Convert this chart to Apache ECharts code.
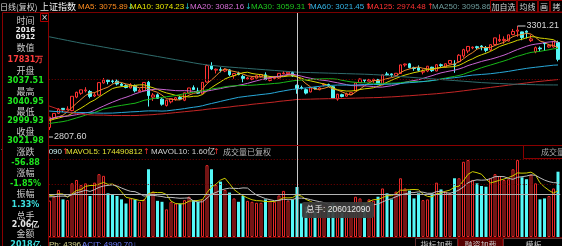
<!DOCTYPE html>
<html><head><meta charset="utf-8">
<script src="https://cdn.jsdelivr.net/npm/echarts@6/dist/echarts.min.js"></script>
<style>html,body{margin:0;padding:0;background:#000;overflow:hidden}#c{width:562px;height:246px}</style>
</head><body><div id="c"></div>
<script>
// ---------- data (SSE Composite, daily, 2016-06-24 .. 2016-12-12) ----------
const dates = ['06-24','06-27','06-28','06-29','06-30','07-01','07-04','07-05','07-06','07-07','07-08','07-11','07-12','07-13','07-14','07-15','07-18','07-19','07-20','07-21','07-22','07-25','07-26','07-27','07-28','07-29','08-01','08-02','08-03','08-04','08-05','08-08','08-09','08-10','08-11','08-12','08-15','08-16','08-17','08-18','08-19','08-22','08-23','08-24','08-25','08-26','08-29','08-30','08-31','09-01','09-02','09-05','09-06','09-07','09-08','09-09','09-12','09-13','09-14','09-19','09-20','09-21','09-22','09-23','09-26','09-27','09-28','09-29','09-30','10-10','10-11','10-12','10-13','10-14','10-17','10-18','10-19','10-20','10-21','10-24','10-25','10-26','10-27','10-28','10-31','11-01','11-02','11-03','11-04','11-07','11-08','11-09','11-10','11-11','11-14','11-15','11-16','11-17','11-18','11-21','11-22','11-23','11-24','11-25','11-28','11-29','11-30','12-01','12-02','12-05','12-06','12-07','12-08','12-09','12-12'];
const opens = [2890,2850,2893,2913,2935,2930,2925,2985,3002,3013,3010,2990,2994,3048,3060,3057,3056,3043,3036,3026,3036,3010,3013,3051,2985,2995,2976,2948,2964,2975,2983,2971,3003,3027,3012,3000,3052,3124,3105,3107,3101,3106,3080,3090,3077,3066,3064,3069,3077,3084,3059,3068,3070,3089,3089,3094,3037.51,3028,3018,3008,3026,3018,3039,3041,3031,2976,2996,2989,2997,3012,3049,3062,3056,3058,3063,3039,3088,3088,3081,3090,3128,3133,3116,3115,3096,3101,3118,3101,3129,3119,3134,3131,3143,3168,3190,3204,3209,3212,3205,3195,3219,3236,3237,3235,3263,3278,3275,3278,3236,3186,3203,3226,3208,3208,3228];
const highs = [2893.5,2897,2913,2936,2936,2944,2989,3009,3018,3029,3016,3007,3050,3070,3062,3065,3063,3049,3042,3047,3041,3024,3051,3057,3003,3001,2980,2973,2979,2986,2990,3005,3026,3037,3027,3051,3130,3140,3112,3118,3113,3109,3091,3098,3084,3075,3074,3084,3088,3095,3072,3078,3091,3101,3097,3099,3040.95,3036,3024,3028,3028,3030,3047,3045,3034,2998.5,3000,3005,3006,3048.5,3068,3063,3066,3067,3066,3085,3097,3090,3091,3129,3134,3137,3120,3126,3109,3122.5,3120,3132,3134,3134,3150,3149,3176,3200,3212,3210,3213,3216,3212,3219,3249,3264,3255,3262,3288,3301.21,3276,3282,3262,3210,3210,3228,3222,3233,3236];
const lows = [2807.60,2839,2885,2910,2918,2925,2922,2980,2995,3006,2980,2985,2992,3045,3042,3046,3037,3032,3024,3024,3006,3008,3011,2943,2968,2977,2947,2943,2957,2969,2972,2967,2999,3017,3000,2997,3050,3105,3090,3095,3096,3078,3067,3082,3051,3061,3060,3068,3072,3060,3055,3064,3066,3086,3083,3075,2999.93,3019,2997,3006,3018,3015,3033,3030,2979,2969,2984,2987,2996,3012,3048,3049,3055,3048,3038,3038,3078,3075,3074,3088,3120,3113,3102,3098,3086,3096,3097,3100,3119,3116,3130,3093,3140,3160,3180,3198,3197,3193,3184,3189,3217,3230,3222,3232,3260,3253,3238,3246,3230,3180,3188,3190,3205,3205,3144];
const closes = [2854.29,2895.70,2912.56,2931.59,2929.61,2932.48,2988.60,3006.39,3017.29,3016.85,2988.09,2994.92,3049.38,3060.69,3054.02,3054.30,3043.56,3036.60,3027.90,3039.01,3012.82,3015.83,3050.17,2992.00,2994.31,2979.34,2953.39,2971.28,2978.46,2982.43,2976.70,3004.28,3025.68,3018.75,3002.64,3050.67,3125.20,3110.04,3109.04,3104.11,3108.10,3084.81,3089.71,3085.87,3068.33,3070.31,3070.03,3080.02,3085.49,3063.31,3067.35,3072.10,3090.71,3091.93,3095.95,3078.86,3021.98,3023.51,3002.85,3026.05,3023.00,3025.87,3042.31,3033.90,2980.43,2998.17,2987.86,2998.48,3004.70,3048.14,3065.25,3058.50,3061.35,3063.81,3041.17,3083.88,3084.72,3084.46,3090.94,3128.25,3131.94,3116.31,3112.35,3104.27,3100.49,3122.44,3102.71,3128.94,3125.32,3133.33,3147.89,3128.37,3171.28,3196.04,3210.37,3206.99,3205.06,3208.45,3192.86,3218.15,3248.35,3241.14,3241.74,3261.94,3277.00,3282.92,3250.03,3273.31,3243.84,3204.71,3199.65,3222.24,3215.37,3232.88,3152.97];
// volume, million lots
const volumes = [220,150,166,194,155,152,221,235,214,221,169,224,259,252,180,176,169,155,138,159,155,145,155,279,187,149,145,114,145,138,138,152,166,152,145,155,296,279,214,228,194,183,159,145,169,149,145,141,141,155,149,145,171,190,150,155,206.01209,138,125,110,105,108,130,118,140,112,100,98,110,166,159,140,155,150,166,200,180,155,187,242,200,191,159,180,152,155,180,224,196,187,180,242,242,310,317,235,221,210,207,242,259,251,235,238,279,317,246,238,256,221,155,159,169,200,269];
// closes of the 59 sessions before 06-24 (for the moving averages)
const priorCloses = [2919.83,3000.65,3003.92,3009.53,3053.07,3050.59,3008.42,2984.96,3033.96,3023.65,3066.64,3082.36,3078.12,3033.66,3042.82,2972.58,2953.67,2959.24,2946.67,2964.70,2953.50,2945.59,2938.32,2992.64,2991.27,2997.84,2913.25,2832.11,2832.59,2837.04,2835.86,2827.11,2850.86,2843.68,2807.51,2806.91,2825.48,2843.65,2821.67,2815.09,2822.44,2821.05,2822.45,2916.62,2913.51,2925.23,2938.68,2934.10,2936.04,2927.16,2833.07,2842.19,2887.21,2872.82,2885.11,2888.81,2878.56,2905.55,2891.96];
const priorVolumes = [190,160,175,150,165,155,150,170,160];
// long averages
const ma125 = [2952,2945,2938,2931,2925,2919,2915,2912,2910,2908,2906,2905,2905,2905,2904,2903,2903,2903,2903,2903,2903,2904,2905,2906,2907,2909,2910,2912,2914,2916,2918,2920,2922,2924,2926,2928,2931,2933,2935,2937,2939,2941,2944,2946,2948,2950,2953,2955,2957,2959,2961,2963,2966,2968,2970,2972,2974.48,2975,2975.5,2976,2976.5,2977,2977.5,2978,2978,2978.5,2979,2979.5,2980,2980.5,2981,2981.5,2982,2982.5,2983,2984,2985,2986,2987,2988.5,2990,2991,2992.5,2994,2995.5,2997,2998.5,3000,3002,3004,3006,3008,3010.5,3013,3015.5,3018,3020.5,3023,3025.5,3028,3030.5,3033,3035.5,3038,3040.5,3043,3045.5,3048,3050.5,3053,3055,3057,3059,3061,3063];
const ma250 = [3257,3253,3249,3245,3241,3237,3233,3229,3225,3221.5,3218,3214.5,3211,3207.5,3204,3200.5,3197,3193.5,3190,3186.5,3183,3179.5,3176,3172.5,3169,3165.5,3162,3158.5,3155,3151.5,3148,3144.5,3141,3137.5,3134,3131,3128,3126,3124,3122,3120,3118.5,3117,3115.5,3114,3112.5,3111,3109.5,3108,3106.5,3105,3103.5,3102,3100.5,3099,3097.5,3095.86,3095.2,3094.6,3094,3093.4,3092.8,3092.2,3091.6,3091,3090.4,3089.8,3089.2,3088.6,3088,3087.4,3086.8,3086,3085,3084,3082.5,3081,3079.5,3078,3076.5,3075,3073.5,3072,3070.5,3069,3067.5,3066,3064.5,3063,3061.5,3060,3058.5,3057,3055.5,3054,3052.5,3051,3049.5,3048.5,3047.5,3046.5,3045.5,3044.5,3043.5,3042.5,3042,3041.5,3041,3040.5,3040,3039.5,3039.3,3039.1,3039,3038.9];
const crossDate = '09-12';
const titleTexts = ['日线(复权)','上证指数','MA5: 3075.89','MA10: 3074.23','MA20: 3082.16','MA30: 3059.31','MA60: 3021.45','MA125: 2974.48','MA250: 3095.86'];
const volTexts = ['VOL: 206012090','MAVOL5: 174490812','MAVOL10: 1.60亿','成交量已复权'];
const infoLabels = ['时间','数值','开盘','最高','最低','收盘','涨跌','涨幅','振幅','总手','金额'];
const infoExtra = {year:'2016', md:'0912', value:'17831万', amount:'2018亿'};
const buttons = ['加自选','均线','画','拷'];
const bottomTexts = ['Pb: 4396↓','ACIT: 4990.70↓'];
const tabs = ['指标加载','融资加载','模板'];

// ---------- derived ----------
function movAvg(arr, prior, n){
  const all = prior.concat(arr);
  return arr.map((_, i) => {
    const end = prior.length + i;
    if (end - n + 1 < 0) return '-';
    let s = 0; for (let k = end - n + 1; k <= end; k++) s += all[k];
    return +(s / n).toFixed(2);
  });
}
const ci = dates.indexOf(crossDate);
const candles = dates.map((d, i) => [opens[i], closes[i], lows[i], highs[i]]);
const isUp = i => closes[i] >= opens[i];
const volData = volumes.map((v, i) => ({value: v, itemStyle: isUp(i) ? {color:'#000', borderColor:'#e82828', borderWidth:1} : {color:'#54f8f8', borderWidth:0}}));
const hiIdx = highs.indexOf(Math.max(...highs));
const loIdx = lows.indexOf(Math.min(...lows));
const prevC = closes[ci-1];
const chg = closes[ci] - prevC;

const maDefs = [
  ['MA5', movAvg(closes, priorCloses, 5), '#e8882c'],
  ['MA10', movAvg(closes, priorCloses, 10), '#d4d400'],
  ['MA20', movAvg(closes, priorCloses, 20), '#c864d2'],
  ['MA30', movAvg(closes, priorCloses, 30), '#18b818'],
  ['MA60', movAvg(closes, priorCloses, 60), '#28a8d8'],
  ['MA125', ma125, '#c42626'],
  ['MA250', ma250, '#2f6c6c']
];
const mavol5 = movAvg(volumes, priorVolumes, 5);
const mavol10 = movAvg(volumes, priorVolumes, 10);

// ---------- decoration helpers ----------
const LAT = '"Liberation Sans","Noto Sans CJK SC",sans-serif';
const CJK = '"Noto Sans CJK SC",sans-serif';
function txt(x, y, s, fill, font, align, z){
  return {type:'text', x:x, y:y, z:z||110, silent:true,
    style:{text:s, fill:fill, font:font, textAlign:align||'left', align:align||'left', textVerticalAlign:'middle', verticalAlign:'middle'}};
}
function box(x, y, w, h, fill, stroke, z, r){
  return {type:'rect', z:z||100, silent:true, shape:{x:x, y:y, width:w, height:h, r:r||0}, style:{fill:fill, stroke:stroke||null, lineWidth:1}};
}
function hl(x1, x2, y, color, z){
  return {type:'line', z:z||90, silent:true, shape:{x1:x1, y1:y, x2:x2, y2:y}, style:{stroke:color, lineWidth:1}};
}

const G = [];
// frame lines
G.push(hl(48, 562, 12.5, '#7a0000'));
G.push(hl(48, 562, 145.5, '#8a0000'));
G.push(hl(48, 562, 237.5, '#6a0000'));
// title row
const tf = '8px ' + LAT;
G.push(txt(0, 6.5, titleTexts[0], '#d8d8d8', '8px ' + CJK));
G.push(txt(40, 6.5, titleTexts[1], '#f2f2f2', '9px ' + CJK));
const tpos = [[78,127,'#ff8c1e','↓','#20c8c8'],[130,184,'#e6e600','↓','#20c8c8'],[190,245,'#d66ed6','↓','#20c8c8'],[251,306,'#1ec81e','↑','#ff3030'],[310,365,'#34b6e8','↑','#ff3030'],[367,427,'#ff3232','↑','#ff3030'],[432,0,'#6e9c9c','','']];
tpos.forEach((p, k) => {
  G.push(txt(p[0], 6.5, titleTexts[k+2], p[2], tf));
  if (p[3]) G.push(txt(p[1], 6.5, p[3], p[4], '8px "DejaVu Sans",sans-serif'));
});
// buttons
const bpos = [[490.5,26],[517.5,20],[538.5,11],[550.5,12]];
bpos.forEach((b, k) => {
  G.push(box(b[0], 0.5, b[1], 11.5, '#000', '#8a0000', 105));
  G.push(txt(b[0] + b[1]/2, 6.5, buttons[k], '#d4d4d4', '8px ' + CJK, 'center'));
});
// volume header
G.push(txt(62, 152, volTexts[0], '#c8eeee', tf, 'right', 95));
G.push(txt(62, 152, '↑', '#ff3030', '8px "DejaVu Sans",sans-serif', 'left', 95));
G.push(txt(66, 152, volTexts[1], '#e2e232', tf));
G.push(txt(143, 152, '↑', '#ff3030', '8px "DejaVu Sans",sans-serif'));
G.push(txt(151, 152, volTexts[2], '#d0d0d0', tf));
G.push(txt(213, 152, '↑', '#ff3030', '8px "DejaVu Sans",sans-serif'));
G.push(txt(223, 152, volTexts[3], '#b4b4b4', '8px ' + CJK));
G.push(box(523.5, 145.5, 40, 13, '#000', '#8a0000', 105));
G.push(txt(541, 152, '成交量', '#a8a8a8', '8px ' + CJK));
// bottom row
G.push(txt(49, 244.5, bottomTexts[0], '#d4d48c', tf));
G.push(txt(82, 244.5, bottomTexts[1], '#6e7cff', tf));
const tpos2 = [[415.5,42,'#000','#603030'],[458.5,44,'#560000','#8a0000'],[503.5,60,'#000','#603030']];
tpos2.forEach((t, k) => {
  G.push(box(t[0], 238.5, t[1], 10, t[2], t[3], 105));
  G.push(txt(t[0] + t[1]/2, 244.5, tabs[k], '#c8c8c8', '8px ' + CJK, 'center'));
});
// tooltip for the crosshair day
G.push(box(302, 202, 72, 16, 'rgba(60,60,60,0.93)', null, 120, 2));
G.push(txt(306, 210, '总手: ' + Math.round(volumes[ci] * 1e6), '#e8e8e8', '8.5px ' + LAT, 'left', 121));
// left info panel
G.push(box(2.5, 12.5, 46, 240, '#000', '#8a0000', 100));
G.push(box(40.5, 13.5, 8, 8, '#000', '#b00000', 102));
G.push(txt(44.5, 17.5, '×', '#e0e0e0', '8px "DejaVu Sans",sans-serif', 'center'));
const LF = '9px ' + CJK, NF = 'bold 8px "DejaVu Sans",sans-serif', DF = 'bold 7px "DejaVu Sans",sans-serif';
const GREEN = '#1ee61e';
const fmt = v => v.toFixed(2);
const rows = [
  [infoLabels[0], 21, '#c8c8c8', LF],
  [infoExtra.year, 30.5, '#f0f0f0', DF],
  [infoExtra.md, 37.5, '#f0f0f0', DF],
  [infoLabels[1], 48, '#c8c8c8', LF],
  [infoExtra.value, 60, '#ff3c3c', NF],
  [infoLabels[2], 71, '#c8c8c8', LF],
  [fmt(opens[ci]), 81, GREEN, NF],
  [infoLabels[3], 92, '#c8c8c8', LF],
  [fmt(highs[ci]), 101.5, GREEN, NF],
  [infoLabels[4], 112, '#c8c8c8', LF],
  [fmt(lows[ci]), 121, GREEN, NF],
  [infoLabels[5], 132, '#c8c8c8', LF],
  [fmt(closes[ci]), 141, GREEN, NF],
  [infoLabels[6], 152, '#c8c8c8', LF],
  [fmt(chg), 163, GREEN, NF],
  [infoLabels[7], 173, '#c8c8c8', LF],
  [(chg / prevC * 100).toFixed(2) + '%', 184, GREEN, NF],
  [infoLabels[8], 194, '#c8c8c8', LF],
  [((highs[ci] - lows[ci]) / prevC * 100).toFixed(2) + '%', 205, '#3ce0e0', NF],
  [infoLabels[9], 215.5, '#c8c8c8', LF],
  [(volumes[ci] / 100).toFixed(2) + '亿', 224.5, '#e6e6e6', NF],
  [infoLabels[10], 233.5, '#c8c8c8', LF],
  [infoExtra.amount, 245, '#3ce0e0', NF]
];
rows.forEach(r => G.push(txt(25.5, r[1], r[0], r[2], r[3], 'center')));

// ---------- chart ----------
const cross = {lineStyle:{color:'#c8c8c8', width:1, type:'solid'}};
const dotted = {lineStyle:{color:'#7a0000', width:1, type:[1,2]}};
const series = [
  {type:'candlestick', name:'K', xAxisIndex:0, yAxisIndex:0, data:candles, barWidth:3, z:2,
   itemStyle:{color:'#000', color0:'#54f8f8', borderColor:'#ff3232', borderColor0:'#54f8f8', borderWidth:1},
   markLine:{silent:true, symbol:['none','none'], label:{show:false}, animation:false,
     data:[Object.assign({yAxis:3065.5}, dotted), Object.assign({xAxis:crossDate}, cross)]},
   markPoint:{silent:true, animation:false,
     data:[
       {coord:[hiIdx, highs[hiIdx]], symbol:'rect', symbolSize:[8,1], symbolOffset:[4,0], itemStyle:{color:'#d0d0d0'},
        label:{show:true, position:'right', distance:1, formatter:highs[hiIdx].toFixed(2), color:'#d6d6d6', fontSize:9, fontFamily:'Liberation Sans'}},
       {coord:[loIdx, lows[loIdx]], symbol:'rect', symbolSize:[8,1], symbolOffset:[4,0], itemStyle:{color:'#d0d0d0'},
        label:{show:true, position:'right', distance:1, formatter:lows[loIdx].toFixed(2), color:'#d6d6d6', fontSize:9, fontFamily:'Liberation Sans'}}
     ]}
  }
];
maDefs.forEach(m => series.push({type:'line', name:m[0], xAxisIndex:0, yAxisIndex:0, data:m[1], showSymbol:false, symbol:'none', z:3,
  lineStyle:{color:m[2], width:1}, silent:true}));
series.push({type:'bar', name:'VOL', xAxisIndex:1, yAxisIndex:1, data:volData, barWidth:3, z:2,
  markLine:{silent:true, symbol:['none','none'], label:{show:false}, animation:false,
    data:[Object.assign({yAxis:321.3}, dotted), Object.assign({yAxis:216.3}, dotted),
          Object.assign({yAxis:174.490812}, {lineStyle:{color:'#b4b4b4', width:1, type:'solid'}}),
          Object.assign({xAxis:crossDate}, cross)]}});
series.push({type:'line', name:'MAVOL5', xAxisIndex:1, yAxisIndex:1, data:mavol5, showSymbol:false, symbol:'none', z:3, lineStyle:{color:'#cccc00', width:1}, silent:true});
series.push({type:'line', name:'MAVOL10', xAxisIndex:1, yAxisIndex:1, data:mavol10, showSymbol:false, symbol:'none', z:3, lineStyle:{color:'#bcbcbc', width:1}, silent:true});

const chart = echarts.init(document.getElementById('c'), null, {renderer:'canvas', width:562, height:246});
chart.setOption({
  backgroundColor:'#000',
  animation:false,
  grid:[
    {left:42.75, width:517.5, top:13, height:132},
    {left:42.75, width:517.5, top:145, height:92}
  ],
  xAxis:[
    {type:'category', data:dates, gridIndex:0, boundaryGap:true, show:false},
    {type:'category', data:dates, gridIndex:1, boundaryGap:true, show:false}
  ],
  yAxis:[
    {type:'value', gridIndex:0, min:2772, max:3359, show:false},
    {type:'value', gridIndex:1, min:0, max:379, show:false}
  ],
  series:series,
  graphic:{elements:G}
});
</script>
</body></html>
